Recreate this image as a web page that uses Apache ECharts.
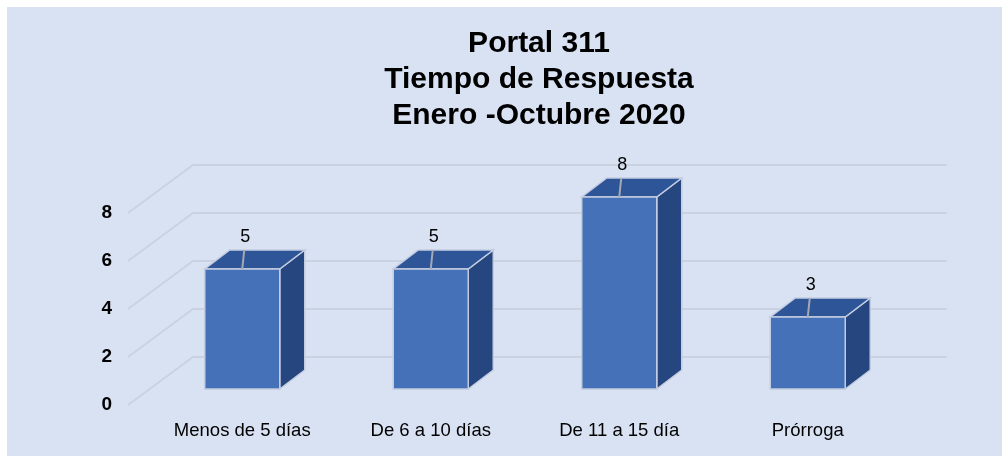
<!DOCTYPE html>
<html>
<head>
<meta charset="utf-8">
<script src="https://cdn.jsdelivr.net/npm/echarts@6/dist/echarts.min.js"></script>
<style>
  html, body { margin: 0; padding: 0; background: #ffffff; }
  #chart { position: absolute; left: 7px; top: 7px; width: 995px; height: 449px; background: #d9e2f3; }
</style>
</head>
<body>
<div id="chart"></div>
<script>
/* data */
var categories = ['Menos de 5 días', 'De 6 a 10 días', 'De 11 a 15 día', 'Prórroga'];
var values = [5, 5, 8, 3];
var yTicks = [0, 2, 4, 6, 8];

/* 3d look: depth offsets in px */
var depthX = 65, depthY = -48;     // back wall vs front plane
var faceX = 20, faceY = -16;       // front face of the bar
var sideX = 25, sideY = -19;       // bar depth
var barW = 75;
var font = '"Liberation Sans", Arial, sans-serif';

var chart = echarts.init(document.getElementById('chart'));

function renderWall(params, api) {
  var cs = params.coordSys;
  var p = api.coord([0, api.value(1)]);
  var x0 = cs.x, y0 = p[1];
  return {
    type: 'polyline',
    shape: { points: [[x0, y0], [x0 + depthX, y0 + depthY], [cs.x + cs.width + depthX, y0 + depthY]] },
    style: { stroke: 'rgba(180,188,200,0.4)', lineWidth: 2, fill: null },
    silent: true
  };
}

function renderBar(params, api) {
  var idx = api.value(0);
  var top = api.coord([idx, api.value(1)]);
  var base = api.coord([idx, 0]);
  var l = top[0] - barW / 2 + faceX, r = l + barW;
  var t = top[1] + faceY, b = base[1] + faceY;
  var edge = '#c3cce0';
  return {
    type: 'group',
    children: [
      { type: 'polygon', shape: { points: [[r, t], [r, b], [r + sideX, b + sideY], [r + sideX, t + sideY]] },
        style: { fill: '#25467f', stroke: edge, lineWidth: 1.5 } },
      { type: 'polygon', shape: { points: [[l, t], [r, t], [r + sideX, t + sideY], [l + sideX, t + sideY]] },
        style: { fill: '#2e5597', stroke: edge, lineWidth: 1.5 } },
      { type: 'rect', shape: { x: l, y: t, width: barW, height: b - t },
        style: { fill: '#4471b8', stroke: edge, lineWidth: 1.5 } },
      { type: 'line', shape: { x1: l + barW / 2, y1: t, x2: l + barW / 2 + 2, y2: t + sideY },
        style: { stroke: '#a3a9b5', lineWidth: 2 } },
      { type: 'text', x: l + barW / 2 + 3, y: t - 32,
        style: { text: String(api.value(1)), fill: '#000', font: '18px ' + font,
          align: 'center', verticalAlign: 'middle' } }
    ]
  };
}

var option = {
  animation: false,
  title: {
    text: 'Portal 311\nTiempo de Respuesta\nEnero -Octubre 2020',
    left: 527,
    top: 14,
    textAlign: 'center',
    textStyle: {
      fontFamily: font,
      fontWeight: 'bold',
      fontSize: 30,
      lineHeight: 36,
      color: '#000'
    }
  },
  grid: { left: 121, right: 120, top: 206, bottom: 51 },
  xAxis: {
    type: 'category',
    data: categories,
    axisLine: { show: false },
    axisTick: { show: false },
    axisLabel: {
      margin: 16,
      padding: [0, 0, 0, 40],
      color: '#000',
      fontSize: 18.5,
      fontFamily: font
    }
  },
  yAxis: {
    type: 'value',
    min: 0,
    max: 8,
    interval: 2,
    axisLine: { show: false },
    axisTick: { show: false },
    splitLine: { show: false },
    axisLabel: {
      margin: 16,
      color: '#000',
      fontSize: 19,
      fontWeight: 'bold',
      fontFamily: font
    }
  },
  series: [
    {
      type: 'custom',
      renderItem: renderWall,
      data: yTicks.map(function (v) { return [0, v]; }),
      z: 1,
      silent: true
    },
    {
      type: 'custom',
      renderItem: renderBar,
      data: values.map(function (v, i) { return [i, v]; }),
      z: 2
    }
  ]
};

chart.setOption(option);
</script>
</body>
</html>
